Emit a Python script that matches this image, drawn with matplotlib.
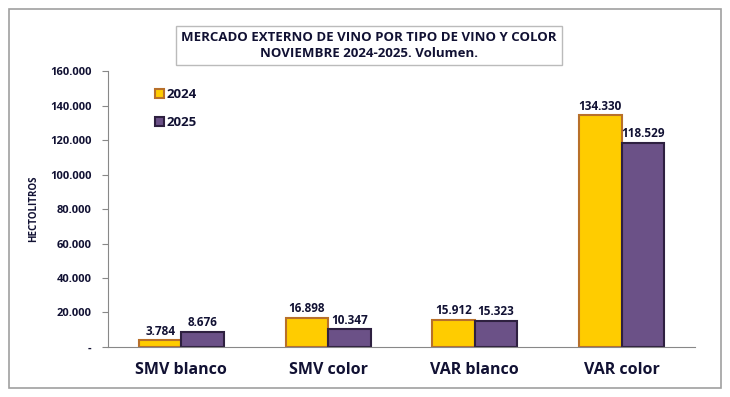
import matplotlib.pyplot as plt
import numpy as np
from matplotlib.patches import Rectangle

categories = ["SMV blanco", "SMV color", "VAR blanco", "VAR color"]
vol_2024 = [3784, 16898, 15912, 134330]
vol_2025 = [8676, 10347, 15323, 118529]
yticks = [0, 20000, 40000, 60000, 80000, 100000, 120000, 140000, 160000]

text_col = "#111133"

def fmt(v):
    return "-" if v == 0 else f"{v:,}".replace(",", ".")

fig = plt.figure(figsize=(7.3, 3.97), dpi=100)
plt.rcParams["font.family"] = ["Open Sans", "DejaVu Sans"]

# outer chart border
fig.patches.append(Rectangle((0.012, 0.022), 0.975, 0.955, transform=fig.transFigure,
                             fill=False, edgecolor="#a0a0a0", linewidth=1.2))

ax = fig.add_axes([0.148, 0.126, 0.804, 0.695])
x = np.arange(len(categories))
w = 0.29
b1 = ax.bar(x - w / 2, vol_2024, w, color="#ffcc00", edgecolor="#b8702a", linewidth=1.5, label="2024")
b2 = ax.bar(x + w / 2, vol_2025, w, color="#6b5187", edgecolor="#2e2040", linewidth=1.5, label="2025")

for bars in (b1, b2):
    for r in bars:
        ax.text(r.get_x() + r.get_width() / 2, r.get_height() + 1500, fmt(int(r.get_height())),
                ha="center", va="bottom", fontsize=8.5, fontweight="bold", color=text_col)

ax.set_xlim(-0.5, len(categories) - 0.5)
ax.set_ylim(0, 160000)
ax.set_yticks(yticks)
ax.set_yticklabels([fmt(v) for v in yticks], fontsize=8, fontweight="bold", color=text_col)
ax.set_xticks(x)
ax.set_xticklabels(categories, fontsize=11.5, fontweight="bold", color=text_col)
ax.tick_params(axis="x", length=0, pad=11)
ax.tick_params(axis="y", length=4, color="#888888", direction="out", pad=8)
for s in ("top", "right"):
    ax.spines[s].set_visible(False)
ax.spines["left"].set_color("#888888")
ax.spines["bottom"].set_color("#888888")
ax.set_ylabel("HECTOLITROS", fontsize=7, fontweight="bold", color=text_col, labelpad=8)

leg = ax.legend(loc="upper left", bbox_to_anchor=(0.06, 0.98), frameon=False,
                prop={"size": 9.5, "weight": "bold"}, handlelength=0.7, handleheight=0.7,
                handletextpad=0.2, labelspacing=1.1)
for t in leg.get_texts():
    t.set_color(text_col)

fig.text(0.505, 0.885, "MERCADO EXTERNO DE VINO POR TIPO DE VINO Y COLOR\nNOVIEMBRE 2024-2025. Volumen.",
         ha="center", va="center", fontsize=9.5, fontweight="bold", color=text_col, linespacing=1.3,
         bbox=dict(boxstyle="square,pad=0.4", facecolor="white", edgecolor="#bbbbbb", linewidth=1))

fig.savefig("out.png", dpi=100)
